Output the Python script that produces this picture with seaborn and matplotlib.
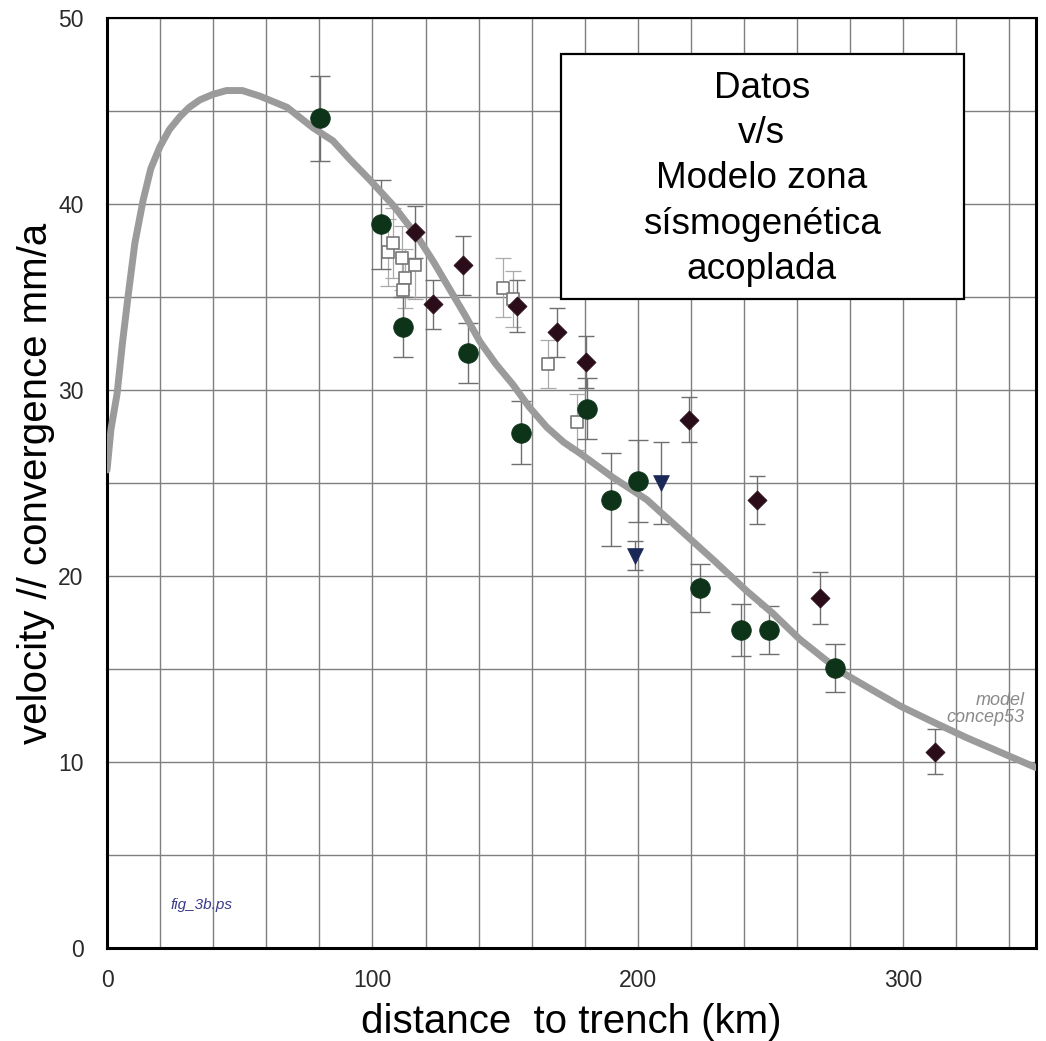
import numpy as np
import pandas as pd
import matplotlib
matplotlib.use("Agg")
import matplotlib.pyplot as plt
from matplotlib.patches import Rectangle
from matplotlib.ticker import MultipleLocator
import seaborn as sns

# model curve
curve_x = [0, 1.5, 3.8, 5.8, 7.9, 10.5, 13.6, 16.5, 20, 23.5, 27.5, 31, 35, 40, 45, 51,
           57.6, 67.8, 77.6, 85.1, 91.5, 99, 108, 116.7, 123, 129.2, 135, 140.5, 146.5,
           152.9, 159, 165.7, 172, 178.2, 190.6, 203.4, 215.8, 228.2, 241, 250.8, 261,
           276, 288, 299, 312, 324, 337, 350]
curve_y = [25.7, 27.9, 29.8, 32.5, 35.0, 37.9, 40.2, 41.9, 43.1, 44.0, 44.7, 45.2, 45.6,
           45.9, 46.1, 46.1, 45.8, 45.2, 44.1, 43.4, 42.4, 41.3, 39.9, 38.3, 36.9, 35.4,
           34.0, 32.6, 31.4, 30.3, 29.1, 28.0, 27.2, 26.6, 25.3, 24.1, 22.5, 20.9, 19.2,
           18.0, 16.6, 14.9, 13.9, 13.0, 12.1, 11.3, 10.5, 9.7]

# observations
circle_x = [80.2, 103.2, 111.5, 136.0, 156.0, 180.8, 189.8, 200.0, 223.4, 238.8, 249.3, 274.2]
circle_y = [44.6, 38.9, 33.4, 32.0, 27.7, 29.0, 24.1, 25.1, 19.35, 17.1, 17.1, 15.05]
circle_err = [2.3, 2.4, 1.6, 1.6, 1.7, 1.65, 2.5, 2.2, 1.3, 1.4, 1.3, 1.3]

diamond_x = [116.0, 122.8, 134.0, 154.4, 169.5, 180.4, 219.2, 244.8, 268.5, 311.9]
diamond_y = [38.5, 34.6, 36.7, 34.5, 33.1, 31.5, 28.4, 24.1, 18.8, 10.55]
diamond_err = [1.4, 1.3, 1.6, 1.4, 1.3, 1.4, 1.2, 1.3, 1.4, 1.2]

triangle_x = [198.9, 208.7]
triangle_y = [21.1, 25.0]
triangle_err = [0.8, 2.2]

square_x = [105.8, 107.7, 111.0, 112.3, 111.5, 116.0, 149.2, 152.9, 166.1, 177.0]
square_y = [37.4, 37.9, 37.1, 36.0, 35.4, 36.7, 35.5, 34.9, 31.4, 28.3]
square_err = [1.8, 1.9, 1.7, 1.6, 1.7, 1.8, 1.6, 1.5, 1.3, 1.5]

sns.set_style("white")
plt.rcParams['font.family'] = ['Liberation Sans', 'DejaVu Sans']

fig = plt.figure(figsize=(10.46, 10.41), dpi=100)
ax = fig.add_axes([0.1023, 0.0893, 0.8881, 0.8934])

ax.set_xlim(0, 350)
ax.set_ylim(0, 50)
ax.xaxis.set_major_locator(MultipleLocator(100))
ax.xaxis.set_minor_locator(MultipleLocator(20))
ax.yaxis.set_major_locator(MultipleLocator(10))
ax.yaxis.set_minor_locator(MultipleLocator(5))
ax.grid(True, which='both', color='#7f7f7f', lw=1.0, zorder=0)
ax.set_axisbelow(True)

for s in ax.spines.values():
    s.set_color('black')
    s.set_linewidth(2.2)
ax.spines['top'].set_linewidth(1.5)

ax.tick_params(which='major', direction='out', length=5, width=1.2, color='#333',
               labelsize=16.5, labelcolor='#2a2a2a', pad=10)
ax.tick_params(axis='y', which='major', pad=12)
ax.tick_params(which='minor', direction='out', length=3, width=0.8, color='#666')

# error bars
ax.errorbar(square_x, square_y, yerr=square_err, fmt='none', ecolor='#aaaaaa',
            elinewidth=0.9, capsize=6, capthick=0.9, zorder=2)
ax.errorbar(circle_x, circle_y, yerr=circle_err, fmt='none', ecolor='#6f6f6f',
            elinewidth=1.0, capsize=7, capthick=1.0, zorder=2)
ax.errorbar(diamond_x, diamond_y, yerr=diamond_err, fmt='none', ecolor='#6f6f6f',
            elinewidth=1.0, capsize=6, capthick=1.0, zorder=2)
ax.errorbar(triangle_x, triangle_y, yerr=triangle_err, fmt='none', ecolor='#6f6f6f',
            elinewidth=1.0, capsize=6, capthick=1.0, zorder=2)

curve = pd.DataFrame({'x': curve_x, 'y': curve_y})
sns.lineplot(data=curve, x='x', y='y', ax=ax, color='#9b9b9b', lw=5, sort=False,
             zorder=3, legend=False, solid_joinstyle='round', solid_capstyle='round')

sns.scatterplot(x=square_x, y=square_y, ax=ax, marker='s', s=70, color='white',
                edgecolor='#777777', linewidth=1.2, zorder=4)
sns.scatterplot(x=circle_x, y=circle_y, ax=ax, marker='o', s=200, color='#0d3318',
                edgecolor='#0d3318', linewidth=0.5, zorder=5)
sns.scatterplot(x=diamond_x, y=diamond_y, ax=ax, marker='D', s=95, color='#2b0d1a',
                edgecolor='#2b0d1a', linewidth=0.5, zorder=5)
sns.scatterplot(x=triangle_x, y=triangle_y, ax=ax, marker='v', s=130, color='#1a2858',
                edgecolor='#1a2858', linewidth=0.5, zorder=5)

ax.set_xlabel('distance  to trench (km)', fontsize=29, labelpad=8, color='black')
ax.set_ylabel('velocity // convergence mm/a', fontsize=29, labelpad=2, color='black')

ax.text(0.988, 0.257, 'model\nconcep53', transform=ax.transAxes, ha='right', va='center',
        fontsize=13, style='italic', color='#8a8a8a', linespacing=1.05)
ax.text(0.068, 0.046, 'fig_3b.ps', transform=ax.transAxes, ha='left', va='center',
        fontsize=11, style='italic', color='#3a3a8a')

ax.add_patch(Rectangle((0.4887, 0.698), 0.4338, 0.263, transform=ax.transAxes,
                       facecolor='white', edgecolor='black', lw=1.6, zorder=10))
ax.text(0.705, 0.827, 'Datos\nv/s\nModelo zona\nsísmogenética\nacoplada',
        transform=ax.transAxes, ha='center', va='center', fontsize=26.6,
        linespacing=1.38, color='black', zorder=11)

fig.savefig('out.png', dpi=100)
